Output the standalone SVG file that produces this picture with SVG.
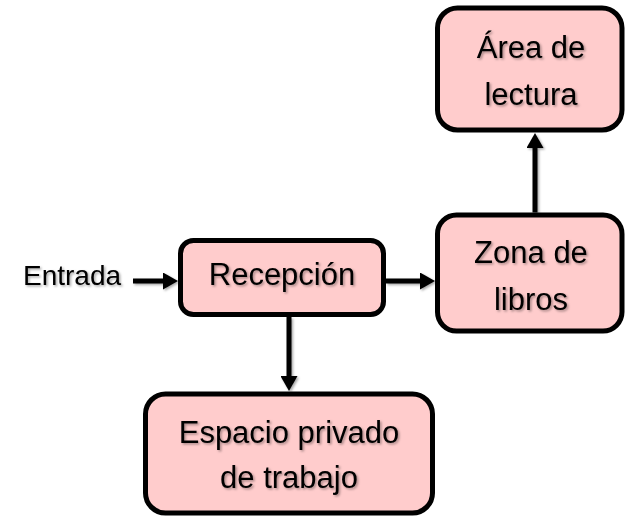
<svg xmlns="http://www.w3.org/2000/svg" width="626" height="517" viewBox="0 0 626 517">
  <defs>
    <style>
      .box { fill: #FFCCCC; stroke: #000; stroke-width: 5; }
      .lbl { font-family: "Liberation Sans", Arial, sans-serif; font-size: 31px; fill: #000; text-anchor: middle; filter: url(#sh); }
      .ent { font-family: "Liberation Sans", Arial, sans-serif; font-size: 28px; fill: #000; filter: url(#sh); }
      .conn { fill: none; stroke: #000; stroke-width: 5; marker-end: url(#ah); }
    </style>
    <filter id="sh" x="-20%" y="-20%" width="140%" height="140%">
      <feDropShadow dx="1.5" dy="1.5" stdDeviation="1" flood-color="#000" flood-opacity="0.35"/>
    </filter>
    <marker id="ah" viewBox="0 0 15 17" refX="0" refY="8.5" markerWidth="15" markerHeight="17" markerUnits="userSpaceOnUse" orient="auto">
      <path d="M0,0 L15,8.5 L0,17 Z" fill="#000"/>
    </marker>
  </defs>
  <rect width="626" height="517" fill="#fff"/>
  <g id="connectors" filter="url(#sh)">
    <path class="conn" d="M133,281 H163"/>
    <path class="conn" d="M386,281 H420"/>
    <path class="conn" d="M289,317 V376"/>
    <path class="conn" d="M535,212.5 V148"/>
  </g>
  <g id="entrada">
    <text class="ent" x="23" y="285">Entrada</text>
  </g>
  <g id="recepcion">
    <rect class="box" x="180.5" y="240.5" width="203" height="74" rx="13" ry="13"/>
    <text class="lbl" x="282" y="285">Recepción</text>
  </g>
  <g id="zona">
    <rect class="box" x="437.5" y="215" width="184.5" height="116" rx="19" ry="19"/>
    <text class="lbl" x="531" y="263">Zona de</text>
    <text class="lbl" x="531" y="310">libros</text>
  </g>
  <g id="area">
    <rect class="box" x="437.5" y="8" width="184.5" height="122" rx="20" ry="20"/>
    <text class="lbl" x="531" y="58">Área de</text>
    <text class="lbl" x="531" y="105">lectura</text>
  </g>
  <g id="espacio">
    <rect class="box" x="145.5" y="394" width="287" height="119" rx="20" ry="20"/>
    <text class="lbl" x="289" y="443">Espacio privado</text>
    <text class="lbl" x="289" y="488">de trabajo</text>
  </g>
</svg>
